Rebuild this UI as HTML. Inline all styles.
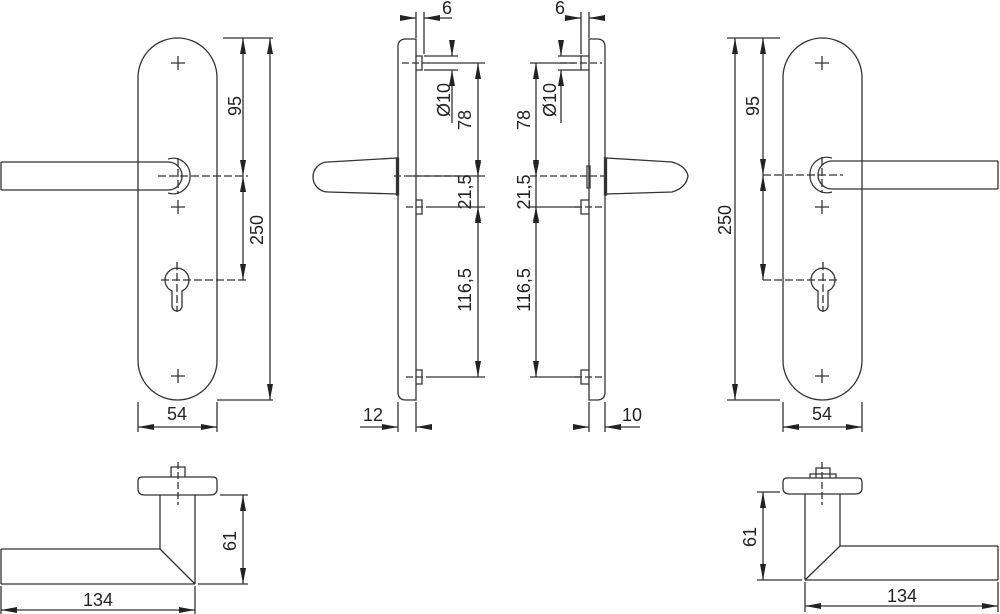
<!DOCTYPE html>
<html><head><meta charset="utf-8"><style>
html,body{margin:0;padding:0;background:#fff;}
svg{display:block;}
text{font-family:"Liberation Sans",sans-serif;font-size:18px;fill:#222;}
</style></head><body>
<svg width="1000" height="614" viewBox="0 0 1000 614" xmlns="http://www.w3.org/2000/svg">
<defs>
<marker id="a" viewBox="0 0 16 6" refX="16" refY="3" markerWidth="16" markerHeight="6" markerUnits="userSpaceOnUse" orient="auto-start-reverse"><path d="M0,0 L16,3 L0,6 z" fill="#222"/></marker>
</defs>
<g fill="none" stroke="#333" stroke-width="1.3">
<!-- LEFT FRONT VIEW -->
<rect x="138" y="38" width="79" height="362" rx="39.5"/>
<path d="M1,162 H168 M1,190 H168 M1,162 V190"/>
<path d="M168,162 A14,14 0 0 1 168,190" />
<path d="M168,159 A17,17 0 0 1 190,176" />
<path d="M168,193 A17,17 0 0 0 190,176" />
<path d="M178,56 v14 M171,63 h14 M178,200 v14 M171,207 h14 M178,369 v14 M171,376 h14"/>
<path d="M178,158 v36 M158,176 h90" stroke-dasharray="8,3"/>
<path d="M172,291 A12,12 0 1 1 182,291 V306 A5,5 0 0 1 172,306 Z"/>
<path d="M177,262 v50 M161,280 h85" stroke-dasharray="8,3"/>
<path d="M223,38 H273 M217,400 H273"/>
<path d="M243,38 V176" marker-start="url(#a)" marker-end="url(#a)"/>
<path d="M243,176 V280" marker-start="url(#a)" marker-end="url(#a)"/>
<path d="M270,38 V400" marker-start="url(#a)" marker-end="url(#a)"/>
<path d="M138,402 V432 M217,402 V432"/>
<path d="M138,427 H217" marker-start="url(#a)" marker-end="url(#a)"/>

<!-- RIGHT FRONT VIEW -->
<rect x="783" y="38" width="79" height="362" rx="39.5"/>
<path d="M998,161 H832 M998,189 H832 M998,161 V189"/>
<path d="M832,161 A14,14 0 0 0 832,189" />
<path d="M832,158 A17,17 0 0 0 810,175" />
<path d="M832,192 A17,17 0 0 1 810,175" />
<path d="M822,56 v14 M815,63 h14 M822,200 v14 M815,207 h14 M822,369 v14 M815,376 h14"/>
<path d="M822,157 v36 M763,175 h80" stroke-dasharray="8,3"/>
<path d="M818,291 A12,12 0 1 1 828,291 V306 A5,5 0 0 1 818,306 Z"/>
<path d="M823,262 v50 M763,280 h77" stroke-dasharray="8,3"/>
<path d="M727,38 H780 M727,400 H780"/>
<path d="M763,38 V175" marker-start="url(#a)" marker-end="url(#a)"/>
<path d="M763,175 V280" marker-start="url(#a)" marker-end="url(#a)"/>
<path d="M735,38 V400" marker-start="url(#a)" marker-end="url(#a)"/>
<path d="M783,402 V432 M862,402 V432"/>
<path d="M783,427 H862" marker-start="url(#a)" marker-end="url(#a)"/>

<!-- LEFT SIDE VIEW -->
<path d="M416,39 H406 Q398,39 398,47 V392 Q398,400 406,400 H416 Z"/>
<path d="M397,158 L328,162 A15,15 0 0 0 328,192 L397,194"/>
<rect x="396.5" y="158" width="2" height="37" fill="#333"/>
<path d="M416,56 h6 v14 h-6 M416,200 h6 v14 h-6 M416,370 h6 v14 h-6"/>
<path d="M402,63 H430 M394,176 H470 M406,207 H430 M406,377 H430" stroke-dasharray="7,3"/>
<path d="M428,63 H485 M410,176 H485 M430,207 H485 M430,377 H485"/>
<path d="M478,63 V176" marker-start="url(#a)" marker-end="url(#a)"/>
<path d="M478,176 V207" />
<path d="M478,207 V377" marker-start="url(#a)" marker-end="url(#a)"/>
<path d="M478,176 l-3,-14 h6 z M478,207 l-3,14 h6 z" fill="#222" stroke="none"/>
<path d="M424,56 H458 M424,70 H458"/>
<path d="M452,40 V56" marker-end="url(#a)"/>
<path d="M452,123 V70" marker-end="url(#a)"/>
<path d="M416,12 V38 M424,12 V54"/>
<path d="M400,18 H416" marker-end="url(#a)"/>
<path d="M452,18 H424" marker-end="url(#a)"/>
<path d="M398,402 V432 M416,402 V432"/>
<path d="M360,427 H398" marker-end="url(#a)"/>
<path d="M432,427 H416" marker-end="url(#a)"/>

<!-- RIGHT SIDE VIEW -->
<path d="M589,39 H597 Q605,39 605,47 V392 Q605,400 597,400 H589 Z"/>
<path d="M606,158 L672,162 Q686,166 688,176 Q686,188 672,192 L606,194"/>
<rect x="604.5" y="158" width="2" height="37" fill="#333"/>
<rect x="587" y="166" width="3" height="22"/>
<path d="M589,56 h-8 v14 h8 M589,200 h-8 v14 h8 M589,370 h-8 v14 h8"/>
<path d="M560,63 H602 M530,176 H610 M575,207 H602 M575,377 H602" stroke-dasharray="7,3"/>
<path d="M530,63 H575 M530,207 H580 M530,377 H580"/>
<path d="M536,63 V176" marker-start="url(#a)" marker-end="url(#a)"/>
<path d="M536,207 V377" marker-start="url(#a)" marker-end="url(#a)"/>
<path d="M536,176 V207"/>
<path d="M536,176 l-3,-14 h6 z M536,207 l-3,14 h6 z" fill="#222" stroke="none"/>
<path d="M558,56 H582 M558,70 H582"/>
<path d="M561,40 V56" marker-end="url(#a)"/>
<path d="M561,123 V70" marker-end="url(#a)"/>
<path d="M581,12 V54 M589,12 V38"/>
<path d="M565,18 H581" marker-end="url(#a)"/>
<path d="M605,18 H589" marker-end="url(#a)"/>
<path d="M589,402 V432 M605,402 V432"/>
<path d="M574,427 H589" marker-end="url(#a)"/>
<path d="M640,427 H605" marker-end="url(#a)"/>

<!-- BOTTOM LEFT -->
<path d="M142,477 H213 Q217,477 217,481 V489 Q217,495 210,495 H145 Q138,495 138,489 V481 Q138,477 142,477 Z"/>
<path d="M171,477 V467 H185 V477"/>
<path d="M178,462 V505" stroke-dasharray="7,3"/>
<path d="M160,495 V549 M195,495 V584 M1,549 H160 M1,584 H195 M1,549 V584 M160,549 L195,584"/>
<path d="M220,495 H248 M198,584 H248"/>
<path d="M243,495 V584" marker-start="url(#a)" marker-end="url(#a)"/>
<path d="M1,586 V614 M195,586 V614"/>
<path d="M1,610 H195" marker-start="url(#a)" marker-end="url(#a)"/>

<!-- BOTTOM RIGHT -->
<path d="M787,478 H858 Q862,478 862,482 V488 Q862,494 855,494 H790 Q783,494 783,488 V482 Q783,478 787,478 Z"/>
<path d="M816,478 V468 H830 V478 M810,478 V474 H836 V478"/>
<path d="M822,462 V505" stroke-dasharray="7,3"/>
<path d="M805,494 V580 M840,494 V546 M840,546 H998 M805,580 H998 M998,546 V580 M840,546 L805,580"/>
<path d="M757,492 H780 M757,580 H802"/>
<path d="M763,492 V580" marker-start="url(#a)" marker-end="url(#a)"/>
<path d="M805,582 V612 M998,582 V612"/>
<path d="M805,606 H998" marker-start="url(#a)" marker-end="url(#a)"/>
</g>

<g>
<text x="236" y="106" text-anchor="middle" transform="rotate(-90 236 106)" dominant-baseline="middle">95</text>
<text x="258" y="230" text-anchor="middle" transform="rotate(-90 258 230)" dominant-baseline="middle">250</text>
<text x="177" y="420" text-anchor="middle">54</text>
<text x="754" y="106" text-anchor="middle" transform="rotate(-90 754 106)" dominant-baseline="middle">95</text>
<text x="726" y="220" text-anchor="middle" transform="rotate(-90 726 220)" dominant-baseline="middle">250</text>
<text x="822" y="420" text-anchor="middle">54</text>
<text x="447" y="14" text-anchor="middle">6</text>
<text x="445" y="100" text-anchor="middle" transform="rotate(-90 445 100)" dominant-baseline="middle">Ø10</text>
<text x="466" y="120" text-anchor="middle" transform="rotate(-90 466 120)" dominant-baseline="middle">78</text>
<text x="466" y="192" text-anchor="middle" transform="rotate(-90 466 192)" dominant-baseline="middle">21,5</text>
<text x="466" y="290" text-anchor="middle" transform="rotate(-90 466 290)" dominant-baseline="middle">116,5</text>
<text x="373" y="421" text-anchor="middle">12</text>
<text x="560" y="14" text-anchor="middle">6</text>
<text x="551" y="100" text-anchor="middle" transform="rotate(-90 551 100)" dominant-baseline="middle">Ø10</text>
<text x="525" y="120" text-anchor="middle" transform="rotate(-90 525 120)" dominant-baseline="middle">78</text>
<text x="525" y="192" text-anchor="middle" transform="rotate(-90 525 192)" dominant-baseline="middle">21,5</text>
<text x="525" y="290" text-anchor="middle" transform="rotate(-90 525 290)" dominant-baseline="middle">116,5</text>
<text x="632" y="421" text-anchor="middle">10</text>
<text x="231" y="541" text-anchor="middle" transform="rotate(-90 231 541)" dominant-baseline="middle">61</text>
<text x="98" y="606" text-anchor="middle">134</text>
<text x="751" y="537" text-anchor="middle" transform="rotate(-90 751 537)" dominant-baseline="middle">61</text>
<text x="902" y="602" text-anchor="middle">134</text>
</g>
</svg>
</body></html>
